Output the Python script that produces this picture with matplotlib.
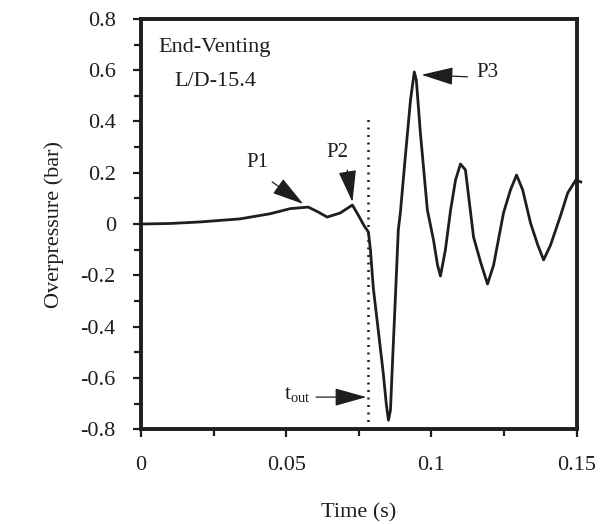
import matplotlib
matplotlib.use("Agg")
import matplotlib.pyplot as plt
from matplotlib.ticker import MultipleLocator

plt.rcParams['font.family'] = ['Liberation Serif', 'DejaVu Serif']

# Pressure trace (time in s, overpressure in bar)
time_s = [0.0, 0.0100, 0.0203, 0.0341, 0.0445, 0.0514, 0.0576, 0.0610, 0.0641,
          0.0686, 0.0728, 0.0748, 0.0769, 0.0783, 0.0790, 0.0800, 0.0817, 0.0834,
          0.0845, 0.0852, 0.0859, 0.0866, 0.0876, 0.0886, 0.0893, 0.0910, 0.0928,
          0.0941, 0.0948, 0.0962, 0.0986, 0.1007, 0.1021, 0.1031, 0.1048, 0.1066,
          0.1083, 0.1100, 0.1117, 0.1145, 0.1169, 0.1193, 0.1214, 0.1248, 0.1272,
          0.1293, 0.1314, 0.1341, 0.1366, 0.1386, 0.1410, 0.1445, 0.1469, 0.1497,
          0.1514]
overpressure = [0.0, 0.002, 0.008, 0.020, 0.040, 0.060, 0.066, 0.047, 0.027,
                0.043, 0.074, 0.035, -0.008, -0.031, -0.100, -0.250, -0.414, -0.580,
                -0.706, -0.765, -0.726, -0.540, -0.285, -0.023, 0.043, 0.261, 0.484,
                0.593, 0.562, 0.355, 0.055, -0.062, -0.160, -0.203, -0.101, 0.055,
                0.172, 0.234, 0.211, -0.051, -0.148, -0.234, -0.160, 0.043, 0.133,
                0.191, 0.133, 0.004, -0.082, -0.140, -0.082, 0.035, 0.121, 0.172,
                0.164]

t_out = 0.078
t_out_top = 0.41

x_ticks = [0, 0.05, 0.1, 0.15]
x_tick_labels = ["0", "0.05", "0.1", "0.15"]
y_ticks = [0.8, 0.6, 0.4, 0.2, 0, -0.2, -0.4, -0.6, -0.8]
y_tick_labels = ["0.8", "0.6", "0.4", "0.2", "0", "-0.2", "-0.4", "-0.6", "-0.8"]

ink = '#1e1e1e'
fig = plt.figure(figsize=(6.02, 5.24), dpi=100)
ax = fig.add_axes([0.234, 0.181, 0.724, 0.783])

ax.plot(time_s, overpressure, color=ink, lw=2.0, clip_on=False, zorder=3)
ax.plot([t_out, t_out], [-0.8, t_out_top], color=ink, lw=1.8,
        linestyle=(0, (0.8, 2.2)), zorder=2)

ax.set_xlim(0, 0.15)
ax.set_ylim(-0.8, 0.8)
ax.set_xticks(x_ticks)
ax.set_xticklabels(x_tick_labels)
ax.set_yticks(y_ticks)
ax.set_yticklabels(y_tick_labels)
ax.xaxis.set_minor_locator(MultipleLocator(0.025))
ax.yaxis.set_minor_locator(MultipleLocator(0.1))
ax.tick_params(which='both', direction='out', color=ink, width=1.6,
               labelsize=16, labelcolor=ink)
ax.tick_params(which='major', length=6)
ax.tick_params(which='minor', length=5)
ax.tick_params(axis='x', pad=13)
ax.tick_params(axis='y', pad=12)
for s in ax.spines.values():
    s.set_linewidth(2.8)
    s.set_color(ink)

ax.set_xlabel("Time (s)", fontsize=16, color=ink, labelpad=21)
ax.set_ylabel("Overpressure (bar)", fontsize=16, color=ink, labelpad=12)

ax.text(0.0255, 0.687, "End-Venting", ha='center', va='center', fontsize=16, color=ink)
ax.text(0.0255, 0.554, "L/D-15.4", ha='center', va='center', fontsize=16, color=ink)

aprops = dict(arrowstyle='-|>,head_length=1.0,head_width=0.28', color=ink,
              lw=0.9, mutation_scale=20, shrinkA=0, shrinkB=0)
ax.text(0.040, 0.238, "P1", ha='center', va='center', fontsize=15, color=ink)
ax.annotate("", xy=(0.0559, 0.078), xytext=(0.0452, 0.164), arrowprops=aprops)
ax.text(0.0676, 0.277, "P2", ha='center', va='center', fontsize=15, color=ink)
ax.annotate("", xy=(0.0728, 0.086), xytext=(0.0710, 0.210), arrowprops=aprops)
ax.text(0.1193, 0.590, "P3", ha='center', va='center', fontsize=15, color=ink)
ax.annotate("", xy=(0.0966, 0.582), xytext=(0.1124, 0.574), arrowprops=aprops)
ax.text(0.0538, -0.667, r"t$_{\mathregular{out}}$", ha='center', va='center',
        fontsize=15, color=ink)
ax.annotate("", xy=(0.0776, -0.675), xytext=(0.0603, -0.675), arrowprops=aprops)

fig.savefig("out.png", dpi=100, facecolor='white')
